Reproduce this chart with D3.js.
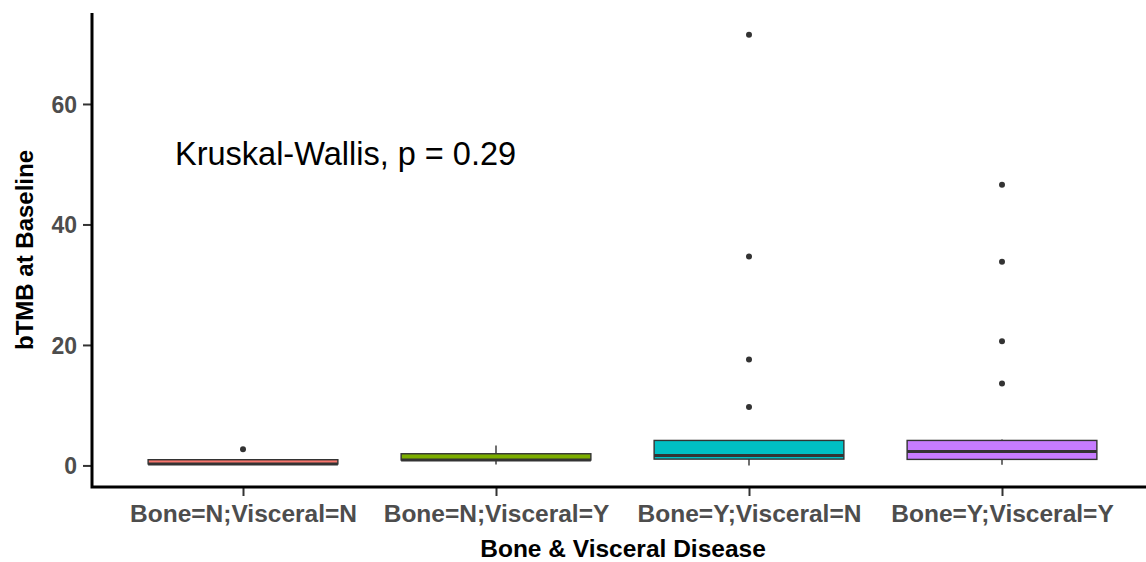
<!DOCTYPE html>
<html>
<head>
<meta charset="utf-8">
<script src="https://cdn.jsdelivr.net/npm/d3@7/dist/d3.min.js"></script>
<style>
  html, body { margin: 0; padding: 0; background: #fff; }
  svg { display: block; font-family: "Liberation Sans", Arial, sans-serif; }
</style>
</head>
<body>
<svg id="chart" width="1146" height="562"></svg>
<script>
// Groups and five-number summaries of bTMB at baseline
const categories = ["Bone=N;Visceral=N", "Bone=N;Visceral=Y", "Bone=Y;Visceral=N", "Bone=Y;Visceral=Y"];
const colors = ["#F8766D", "#7CAE00", "#00BFC4", "#C77CFF"];
const whiskerLow = [0.25, 0.17, 0.0, 0.1];
const q1 = [0.25, 0.9, 1.05, 1.0];
const median = [0.25, 0.9, 1.66, 2.33];
const q3 = [0.95, 1.94, 4.15, 4.15];
const whiskerHigh = [0.95, 3.3, 4.15, 4.3];
const outliers = [[2.7], [], [9.7, 17.6, 34.7, 71.5], [13.6, 20.6, 33.8, 46.6]];
const yTicks = [0, 20, 40, 60];
const testLabel = "Kruskal-Wallis, p = 0.29";

const svg = d3.select("#chart");
const plotLeft = 92, plotRight = 1146, plotTop = 13, plotBottom = 487;

const x = d3.scalePoint().domain(categories).range([243, 1002]);
const step = x.step();
const boxW = step * 0.75;
const y = d3.scaleLinear().domain([-3.58, 75.1]).range([plotBottom, plotTop]);

const groups = categories.map((c, i) => ({
  cat: c, color: colors[i], lo: whiskerLow[i], q1: q1[i], med: median[i],
  q3: q3[i], hi: whiskerHigh[i], out: outliers[i]
}));

const g = svg.append("g");
const box = g.selectAll("g.box").data(groups).join("g").attr("class", "box");

// whiskers
box.append("line")
  .attr("x1", d => x(d.cat)).attr("x2", d => x(d.cat))
  .attr("y1", d => y(d.q3)).attr("y2", d => y(d.hi))
  .attr("stroke", "#333").attr("stroke-width", 1.4);
box.append("line")
  .attr("x1", d => x(d.cat)).attr("x2", d => x(d.cat))
  .attr("y1", d => y(d.q1)).attr("y2", d => y(d.lo))
  .attr("stroke", "#333").attr("stroke-width", 1.4);

// boxes
box.append("rect")
  .attr("x", d => x(d.cat) - boxW / 2).attr("width", boxW)
  .attr("y", d => y(d.q3)).attr("height", d => y(d.q1) - y(d.q3))
  .attr("fill", d => d.color).attr("stroke", "#333").attr("stroke-width", 1.4);

// medians
box.append("line")
  .attr("x1", d => x(d.cat) - boxW / 2).attr("x2", d => x(d.cat) + boxW / 2)
  .attr("y1", d => y(d.med)).attr("y2", d => y(d.med))
  .attr("stroke", "#333").attr("stroke-width", 3);

// outliers
box.selectAll("circle").data(d => d.out.map(v => ({ cat: d.cat, v })))
  .join("circle")
  .attr("cx", d => x(d.cat)).attr("cy", d => y(d.v)).attr("r", 3)
  .attr("fill", "#333");

// axes
const yAxis = svg.append("g").attr("transform", `translate(${plotLeft},0)`)
  .call(d3.axisLeft(y).tickValues(yTicks).tickSize(9).tickPadding(6));
const xAxis = svg.append("g").attr("transform", `translate(0,${plotBottom})`)
  .call(d3.axisBottom(x).tickSize(9).tickPadding(8));

[yAxis, xAxis].forEach(a => {
  a.select(".domain").remove();
  a.selectAll(".tick line").attr("stroke", "#333").attr("stroke-width", 2);
  a.selectAll(".tick text").attr("fill", "#4D4D4D")
    .style("font-family", "'Liberation Sans', Arial, sans-serif")
    .style("font-weight", "bold").style("font-size", "23px");
});
xAxis.selectAll(".tick text").style("font-size", "24.5px").attr("dy", "0.72em");
yAxis.selectAll(".tick text").attr("dy", "0.36em");

// axis lines
svg.append("path")
  .attr("d", `M${plotLeft},${plotTop}V${plotBottom}H${plotRight}`)
  .attr("fill", "none").attr("stroke", "#000").attr("stroke-width", 3)
  .attr("stroke-linejoin", "miter");

// titles
svg.append("text")
  .attr("x", 623).attr("y", 557)
  .attr("text-anchor", "middle").style("font-weight", "bold").style("font-size", "24.5px")
  .text("Bone & Visceral Disease");
svg.append("text")
  .attr("transform", `translate(33,${(plotTop + plotBottom) / 2}) rotate(-90)`)
  .attr("text-anchor", "middle").style("font-weight", "bold").style("font-size", "24px")
  .text("bTMB at Baseline");

// test annotation
svg.append("text")
  .attr("x", 175).attr("y", 165)
  .style("font-size", "32.5px")
  .text(testLabel);
</script>
</body>
</html>
